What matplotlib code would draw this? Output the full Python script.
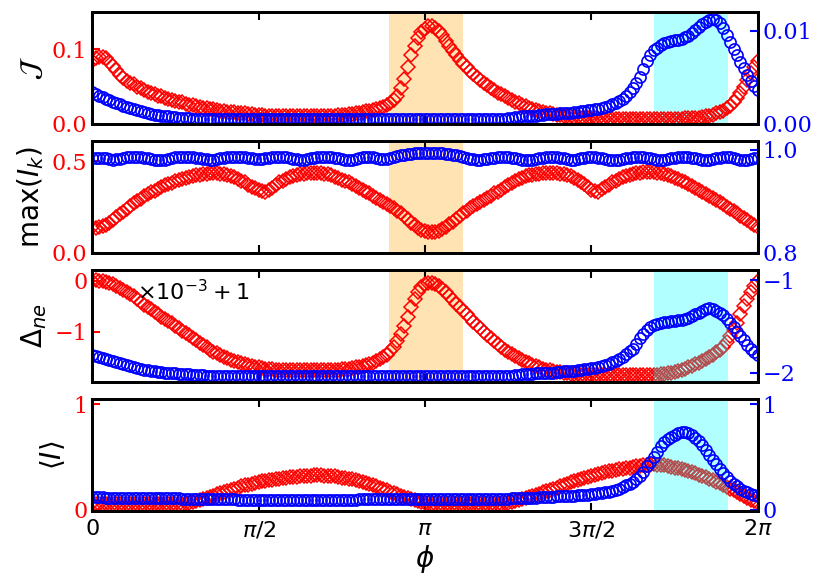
import matplotlib.pyplot as plt
import numpy as np

# phi grid
n_phi = 193
phi = np.linspace(0, 2 * np.pi, n_phi)

# panel 1: J (red, left axis) / J (blue, right axis)
J_red = ([0.085, 0.088, 0.090, 0.090, 0.088, 0.083, 0.078, 0.072, 0.066, 0.062,
          0.058, 0.055, 0.053, 0.050, 0.048, 0.045, 0.043, 0.041, 0.040, 0.038,
          0.037, 0.035, 0.034, 0.032, 0.031, 0.030, 0.029, 0.027, 0.026, 0.025,
          0.024, 0.023, 0.022, 0.021, 0.020, 0.0195, 0.019, 0.018, 0.017, 0.0165,
          0.016, 0.0155, 0.015, 0.0145, 0.014, 0.0135, 0.013, 0.0125, 0.012, 0.0115,
          0.011, 0.011, 0.011, 0.0105, 0.010, 0.010, 0.010, 0.010, 0.010, 0.010,
          0.010, 0.010, 0.010, 0.010, 0.010, 0.010, 0.010, 0.0105, 0.011, 0.011,
          0.011, 0.0115, 0.012, 0.0125, 0.013, 0.0135, 0.014, 0.015, 0.016, 0.017,
          0.018, 0.019, 0.020, 0.021, 0.023, 0.025, 0.028, 0.032, 0.038, 0.048,
          0.060, 0.076, 0.092, 0.105, 0.116, 0.123, 0.128, 0.131, 0.132, 0.129,
          0.125, 0.119, 0.112, 0.105, 0.098, 0.092, 0.086, 0.081, 0.076, 0.071,
          0.067, 0.063, 0.059, 0.055, 0.052, 0.048, 0.045, 0.042, 0.040, 0.037,
          0.035, 0.032, 0.030, 0.028, 0.026, 0.024, 0.022, 0.020, 0.019, 0.0175,
          0.016, 0.015, 0.014, 0.013, 0.012, 0.0115, 0.011, 0.0105, 0.010, 0.0095,
          0.009, 0.0085, 0.008, 0.008, 0.008, 0.0075]
         + [0.007] * 25
         + [0.0075, 0.008, 0.008, 0.008, 0.0085, 0.009, 0.010, 0.011, 0.0125,
            0.014, 0.016, 0.018, 0.021, 0.024, 0.029, 0.035, 0.042, 0.050, 0.059,
            0.068, 0.077, 0.085])
J_blue = ([0.0034, 0.0032, 0.0030, 0.00285, 0.0027, 0.00255, 0.0024, 0.00225, 0.0021, 0.00195,
           0.0018, 0.0017, 0.0016, 0.0015, 0.0014, 0.0013, 0.0012, 0.0011, 0.0010, 0.00095,
           0.0009, 0.00085, 0.0008, 0.00075, 0.0007, 0.00065, 0.0006, 0.0006, 0.0006, 0.00055]
          + [0.0005] * 90
          + [0.0006, 0.00065, 0.0007, 0.00075, 0.0008, 0.0008, 0.0008, 0.00085, 0.0009, 0.00095,
             0.0010, 0.00105, 0.0011, 0.0011, 0.0011, 0.00115, 0.0012, 0.0012, 0.0012, 0.00125,
             0.0013, 0.00135, 0.0014, 0.00145, 0.0015, 0.00155, 0.0016, 0.0017, 0.0018, 0.00195,
             0.0021, 0.0023, 0.0025, 0.0027, 0.0030, 0.0034, 0.0039, 0.0044, 0.0050, 0.0059,
             0.0068, 0.0074, 0.0079, 0.0082, 0.0085, 0.0087, 0.0088, 0.0089, 0.0090, 0.0090,
             0.0091, 0.0093, 0.0095, 0.0098, 0.0101, 0.0104, 0.0107, 0.0110, 0.0112, 0.0113,
             0.0112, 0.0108, 0.0103, 0.0096, 0.0088, 0.0081, 0.0074, 0.0067, 0.0060, 0.0053,
             0.0046, 0.0041, 0.0036])

# panel 2: max(I_k)
maxI_red = [0.140, 0.138, 0.140, 0.144, 0.150, 0.164, 0.180, 0.195, 0.210, 0.225,
            0.240, 0.255, 0.270, 0.283, 0.295, 0.308, 0.320, 0.330, 0.340, 0.350,
            0.360, 0.368, 0.375, 0.383, 0.390, 0.398, 0.405, 0.410, 0.415, 0.420,
            0.425, 0.428, 0.430, 0.433, 0.435, 0.436, 0.435, 0.433, 0.430, 0.425,
            0.420, 0.413, 0.405, 0.395, 0.385, 0.373, 0.360, 0.352, 0.345, 0.338,
            0.335, 0.343, 0.355, 0.370, 0.385, 0.395, 0.405, 0.413, 0.420, 0.425,
            0.430, 0.433, 0.435, 0.437, 0.438, 0.437, 0.435, 0.433, 0.430, 0.423,
            0.415, 0.408, 0.400, 0.393, 0.385, 0.375, 0.365, 0.355, 0.345, 0.335,
            0.325, 0.312, 0.300, 0.290, 0.280, 0.268, 0.255, 0.243, 0.230, 0.215,
            0.200, 0.183, 0.165, 0.150, 0.135, 0.126, 0.120, 0.116, 0.115, 0.116,
            0.120, 0.128, 0.140, 0.155, 0.170, 0.185, 0.200, 0.215, 0.230, 0.243,
            0.255, 0.268, 0.280, 0.290, 0.300, 0.313, 0.325, 0.335, 0.345, 0.358,
            0.370, 0.383, 0.395, 0.403, 0.410, 0.418, 0.425, 0.428, 0.430, 0.433,
            0.435, 0.437, 0.438, 0.437, 0.435, 0.433, 0.430, 0.425, 0.420, 0.410,
            0.400, 0.388, 0.375, 0.360, 0.345, 0.338, 0.335, 0.347, 0.360, 0.373,
            0.385, 0.395, 0.405, 0.413, 0.420, 0.425, 0.430, 0.434, 0.438, 0.439,
            0.440, 0.441, 0.440, 0.438, 0.435, 0.430, 0.425, 0.418, 0.410, 0.403,
            0.395, 0.385, 0.375, 0.365, 0.355, 0.345, 0.335, 0.323, 0.310, 0.300,
            0.290, 0.278, 0.265, 0.253, 0.240, 0.228, 0.215, 0.203, 0.190, 0.178,
            0.165, 0.153, 0.140]
maxI_blue = [0.985, 0.985, 0.985, 0.985, 0.984, 0.982, 0.981, 0.982, 0.983, 0.985,
             0.986, 0.987, 0.987, 0.987, 0.986, 0.985, 0.984, 0.982, 0.981, 0.980,
             0.980, 0.981, 0.983, 0.985, 0.986, 0.987, 0.987, 0.987, 0.987, 0.986,
             0.985, 0.984, 0.983, 0.982, 0.981, 0.981, 0.982, 0.984, 0.985, 0.986,
             0.987, 0.987, 0.987, 0.987, 0.986, 0.985, 0.984, 0.983, 0.983, 0.983,
             0.984, 0.985, 0.986, 0.987, 0.987, 0.987, 0.986, 0.985, 0.983, 0.982,
             0.981, 0.981, 0.982, 0.984, 0.985, 0.986, 0.987, 0.987, 0.987, 0.986,
             0.985, 0.984, 0.982, 0.981, 0.980, 0.981, 0.983, 0.985, 0.986, 0.987,
             0.987, 0.986, 0.985, 0.983, 0.982, 0.983, 0.984, 0.986, 0.988, 0.990,
             0.991, 0.992, 0.993, 0.994, 0.994, 0.994, 0.994, 0.994, 0.994, 0.994,
             0.994, 0.994, 0.993, 0.992, 0.991, 0.990, 0.988, 0.987, 0.985, 0.983,
             0.982, 0.981, 0.981, 0.982, 0.983, 0.984, 0.985, 0.986, 0.986, 0.986,
             0.986, 0.985, 0.984, 0.982, 0.981, 0.980, 0.980, 0.981, 0.982, 0.984,
             0.985, 0.986, 0.986, 0.986, 0.986, 0.985, 0.984, 0.982, 0.981, 0.981,
             0.982, 0.984, 0.985, 0.986, 0.986, 0.986, 0.985, 0.984, 0.983, 0.981,
             0.980, 0.980, 0.981, 0.983, 0.984, 0.985, 0.986, 0.986, 0.986, 0.986,
             0.985, 0.984, 0.982, 0.981, 0.980, 0.981, 0.982, 0.984, 0.985, 0.986,
             0.986, 0.986, 0.986, 0.985, 0.984, 0.982, 0.981, 0.980, 0.981, 0.982,
             0.984, 0.985, 0.986, 0.986, 0.986, 0.985, 0.983, 0.981, 0.980, 0.981,
             0.983, 0.984, 0.985]

# panel 3: Delta_ne (red shown as x1e-3 + 1)
dne_red = ([0.00, 0.01, 0.00, -0.01, -0.02, -0.04, -0.07, -0.10, -0.14, -0.18,
            -0.22, -0.26, -0.30, -0.35, -0.41, -0.47, -0.52, -0.56, -0.61, -0.65,
            -0.70, -0.74, -0.79, -0.83, -0.88, -0.93, -0.98, -1.02, -1.07, -1.12,
            -1.17, -1.21, -1.26, -1.30, -1.35, -1.39, -1.42, -1.46, -1.49, -1.52,
            -1.55, -1.58, -1.60, -1.62, -1.64, -1.66, -1.67, -1.69, -1.70, -1.71,
            -1.72, -1.73, -1.73, -1.74, -1.74]
           + [-1.75] * 15
           + [-1.74, -1.74, -1.73, -1.73, -1.72, -1.71, -1.70, -1.69, -1.68, -1.66,
              -1.64, -1.61, -1.58, -1.54, -1.50, -1.45, -1.38, -1.29, -1.18, -1.04,
              -0.88, -0.70, -0.52, -0.36, -0.22, -0.12, -0.06, -0.04, -0.04, -0.06,
              -0.10, -0.16, -0.22, -0.29, -0.37, -0.45, -0.52, -0.59, -0.66, -0.73,
              -0.80, -0.87, -0.93, -1.00, -1.06, -1.12, -1.18, -1.24, -1.30, -1.35,
              -1.40, -1.44, -1.48, -1.52, -1.55, -1.59, -1.62, -1.65, -1.67, -1.70,
              -1.72, -1.74, -1.75, -1.77, -1.78, -1.79, -1.80, -1.81, -1.82, -1.83,
              -1.83, -1.84, -1.84]
           + [-1.85] * 20
           + [-1.84, -1.83, -1.82, -1.81, -1.80, -1.78, -1.77,
              -1.75, -1.73, -1.70, -1.67, -1.64, -1.61, -1.57, -1.53, -1.49, -1.45,
              -1.40, -1.35, -1.29, -1.20, -1.08, -0.96, -0.82, -0.66, -0.50, -0.36,
              -0.22, -0.10, 0.00])
dne_blue = ([-1.81, -1.82, -1.83, -1.84, -1.85, -1.86, -1.87, -1.89, -1.90, -1.91,
             -1.92, -1.93, -1.94, -1.95, -1.96, -1.97, -1.97, -1.98, -1.98, -1.99,
             -1.99, -2.00, -2.00, -2.01, -2.01, -2.02, -2.02, -2.02, -2.02, -2.03,
             -2.03, -2.03, -2.03]
            + [-2.04] * 89
            + [-2.03, -2.03, -2.02, -2.02, -2.02, -2.02, -2.01, -2.01, -2.00, -2.00,
               -2.00, -2.00, -1.99, -1.99, -1.98, -1.98, -1.98, -1.98,
               -1.97, -1.97, -1.96, -1.96, -1.95, -1.95, -1.94, -1.93, -1.92, -1.91,
               -1.89, -1.87, -1.85, -1.83, -1.80, -1.77, -1.74, -1.69, -1.63, -1.58,
               -1.54, -1.51, -1.49, -1.47, -1.46, -1.45, -1.45, -1.44, -1.44, -1.43,
               -1.43, -1.42, -1.41, -1.39, -1.37, -1.35, -1.33, -1.31, -1.30, -1.31,
               -1.33, -1.35, -1.38, -1.42, -1.46, -1.51, -1.56, -1.60, -1.65, -1.70,
               -1.74, -1.78, -1.81])

# panel 4: <I>
I_red = ([0.060, 0.057, 0.055, 0.052]
         + [0.050] * 21
         + [0.052, 0.055, 0.060, 0.065, 0.072, 0.080, 0.090, 0.100, 0.110, 0.120,
            0.133, 0.145, 0.158, 0.170, 0.180,
            0.190, 0.200, 0.210, 0.220, 0.230, 0.238, 0.245, 0.253, 0.260, 0.268,
            0.275, 0.280, 0.285, 0.290, 0.295, 0.300, 0.305, 0.308, 0.310, 0.313,
            0.315, 0.318, 0.320, 0.323, 0.325, 0.326, 0.325, 0.323, 0.320, 0.318,
            0.315, 0.310, 0.305, 0.300, 0.295, 0.288, 0.280, 0.270, 0.260, 0.250,
            0.240, 0.230, 0.220, 0.208, 0.195, 0.183, 0.170, 0.158, 0.145, 0.133,
            0.120, 0.110, 0.100, 0.090, 0.080, 0.072, 0.065, 0.060, 0.055, 0.052]
         + [0.050] * 17
         + [0.052, 0.055, 0.060,
            0.065, 0.072, 0.080, 0.090, 0.100, 0.110, 0.120, 0.130, 0.140, 0.153,
            0.165, 0.178, 0.190, 0.200, 0.210, 0.223, 0.235, 0.248, 0.260, 0.270,
            0.280, 0.290, 0.300, 0.310, 0.320, 0.330, 0.340, 0.348, 0.355, 0.363,
            0.370, 0.378, 0.385, 0.390, 0.395, 0.400, 0.405, 0.410, 0.415, 0.420,
            0.425, 0.428, 0.430, 0.428, 0.425, 0.420, 0.415, 0.408, 0.400, 0.393,
            0.385, 0.375, 0.365, 0.355, 0.345, 0.333, 0.320, 0.308, 0.295, 0.280,
            0.265, 0.250, 0.235, 0.218, 0.200, 0.183, 0.165, 0.148, 0.130, 0.113,
            0.095, 0.078, 0.060])
I_blue = ([0.120, 0.120, 0.120, 0.118, 0.115, 0.112]
          + [0.110] * 19
          + [0.108, 0.105, 0.105, 0.105, 0.102]
          + [0.100] * 11
          + [0.098]
          + [0.095] * 35
          + [0.098, 0.100, 0.100, 0.100, 0.102]
          + [0.105] * 39
          + [0.108, 0.110, 0.110, 0.110, 0.112, 0.115, 0.115, 0.115, 0.118,
             0.120, 0.120, 0.120, 0.122, 0.125, 0.125, 0.125, 0.128, 0.130, 0.132,
             0.135, 0.138, 0.140, 0.142, 0.145, 0.150, 0.155, 0.160, 0.165, 0.172,
             0.180, 0.190, 0.200, 0.213, 0.230, 0.246, 0.265, 0.290, 0.320, 0.362,
             0.410, 0.455, 0.500, 0.552, 0.600, 0.640, 0.670, 0.693, 0.710, 0.725,
             0.735, 0.734, 0.725, 0.706, 0.680, 0.648, 0.610, 0.566, 0.520, 0.474,
             0.430, 0.385, 0.345, 0.308, 0.275, 0.246, 0.220, 0.199, 0.180, 0.164,
             0.150, 0.140, 0.130])

for name, s in [('J_red', J_red), ('J_blue', J_blue), ('maxI_red', maxI_red),
                ('maxI_blue', maxI_blue), ('dne_red', dne_red), ('dne_blue', dne_blue),
                ('I_red', I_red), ('I_blue', I_blue)]:
    assert len(s) == n_phi, (name, len(s))

xtick_pos = [0, np.pi / 2, np.pi, 3 * np.pi / 2, 2 * np.pi]
xtick_lab = ['0', r'$\pi/2$', r'$\pi$', r'$3\pi/2$', r'$2\pi$']

orange_span = (2.8, 3.5)
cyan_span = (5.3, 6.0)

fig, axes = plt.subplots(4, 1, sharex=True, figsize=(8.3, 5.84), dpi=100)
fig.subplots_adjust(left=0.111, right=0.913, top=0.979, bottom=0.1255, hspace=0.155)

panels = [
    (J_red, J_blue, r'$\mathcal{J}$', (0, 0.15), (0, 0.012), [0, 0.1], [0, 0.01]),
    (maxI_red, maxI_blue, r'max$(I_k)$', (0, 0.61), (0.8, 1.017), [0, 0.5], [0.8, 1.0]),
    (dne_red, dne_blue, r'$\Delta_{ne}$', (-1.98, 0.21), (-2.10, -0.89), [-1, 0], [-2, -1]),
    (I_red, I_blue, r'$\langle I\rangle$', (-0.01, 1.05), (-0.01, 1.05), [0, 1], [0, 1]),
]

for k, (ax, (red, blue, lab, ylim_l, ylim_r, yt_l, yt_r)) in enumerate(zip(axes, panels)):
    axr = ax.twinx()

    # shaded windows
    if k in (0, 1, 2):
        ax.axvspan(*orange_span, color='orange', alpha=0.3, lw=0, zorder=0)
    if k == 0:
        ax.axvspan(*cyan_span, color='cyan', alpha=0.3, lw=0, zorder=0)
    if k in (2, 3):
        axr.axvspan(*cyan_span, color='cyan', alpha=0.3, lw=0, zorder=0)

    ax.plot(phi, red, ls='none', marker='D', ms=7, mfc='none', mec='red', mew=1.1)
    axr.plot(phi, blue, ls='none', marker='o', ms=8, mfc='none', mec='blue', mew=1.2)

    ax.set_xlim(0, 2 * np.pi)
    ax.set_ylim(*ylim_l)
    axr.set_ylim(*ylim_r)
    ax.set_yticks(yt_l)
    axr.set_yticks(yt_r)
    ax.set_ylabel(lab, fontsize=20)

    ax.tick_params(axis='x', direction='in', top=True, length=6, width=1.5,
                   labelsize=16, pad=6)
    ax.tick_params(axis='y', colors='red', direction='in', length=6, width=1.5,
                   labelsize=16, labelfontfamily='DejaVu Serif')
    axr.tick_params(axis='y', colors='blue', direction='in', length=6, width=1.5,
                    labelsize=16, labelfontfamily='DejaVu Serif')
    for a in (ax, axr):
        for sp in a.spines.values():
            sp.set_linewidth(2)
            sp.set_color('black')

axes[-1].set_xticks(xtick_pos)
axes[-1].set_xticklabels(xtick_lab)
axes[-1].set_xlabel(r'$\phi$', fontsize=20, labelpad=2)

axes[2].text(0.068, 0.73, r'$\times10^{-3}+1$', transform=axes[2].transAxes,
             fontsize=16, va='baseline', ha='left')

fig.savefig('out.png', dpi=100)
